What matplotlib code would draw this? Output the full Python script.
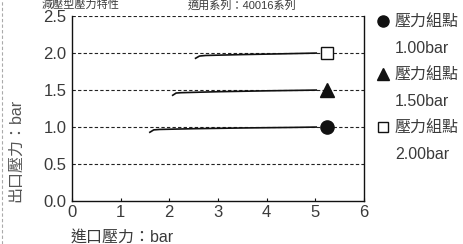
import matplotlib
matplotlib.use("Agg")
import matplotlib.pyplot as plt
from matplotlib.lines import Line2D

plt.rcParams['font.family'] = ['Liberation Sans', 'Noto Sans CJK TC']

# data
inlet_1 = [1.60, 1.68, 1.80, 2.50, 3.50, 4.50, 5.02]
outlet_1 = [0.93, 0.962, 0.968, 0.978, 0.988, 0.995, 1.00]
inlet_15 = [2.07, 2.14, 2.25, 3.00, 4.00, 5.02]
outlet_15 = [1.43, 1.46, 1.465, 1.478, 1.49, 1.50]
inlet_2 = [2.54, 2.62, 2.75, 3.50, 4.30, 5.02]
outlet_2 = [1.93, 1.96, 1.968, 1.98, 1.99, 2.00]
set_x = [5.25, 5.25, 5.25]
set_y = [1.00, 1.50, 2.00]
set_labels = ['1.00bar', '1.50bar', '2.00bar']
x_ticks = [0, 1, 2, 3, 4, 5, 6]
y_ticks = [0.0, 0.5, 1.0, 1.5, 2.0, 2.5]

TXT = '#3a3a3a'
LIGHT = 300
fig = plt.figure(figsize=(4.63, 2.44), dpi=100)
ax = fig.add_axes([0.1555, 0.176, 0.6305, 0.758])

for yv in y_ticks[1:]:
    ax.axhline(yv, color='#222222', lw=0.8, ls=(0, (3, 2)), zorder=1)

ax.plot(inlet_1, outlet_1, color='#111111', lw=1.2, zorder=3)
ax.plot(inlet_15, outlet_15, color='#111111', lw=1.2, zorder=3)
ax.plot(inlet_2, outlet_2, color='#111111', lw=1.2, zorder=3)

ax.plot([set_x[0]], [set_y[0]], 'o', color='#111111', ms=9.5, zorder=4)
ax.plot([set_x[1]], [set_y[1]], '^', color='#111111', ms=10, zorder=4)
ax.plot([set_x[2]], [set_y[2]], 's', mfc='white', mec='#111111', mew=1.0, ms=8, zorder=4)

ax.set_xlim(0, 6)
ax.set_ylim(0, 2.5)
ax.set_xticks(x_ticks)
ax.set_yticks(y_ticks)
ax.set_yticklabels([f'{v:.1f}' for v in y_ticks])
ax.tick_params(axis='x', direction='in', length=2, width=0.8, colors='#111111',
               labelcolor=TXT, labelsize=12, pad=3)
ax.tick_params(axis='y', length=0, labelcolor=TXT, labelsize=12, pad=4)
ax.spines['top'].set_visible(False)
for s in ['left', 'right', 'bottom']:
    ax.spines[s].set_color('#111111')
    ax.spines[s].set_linewidth(1.0)

fig.text(0.153, 0.03, '進口壓力：bar', color=TXT, fontsize=11.5, ha='left', va='center',
         fontweight=LIGHT)
fig.text(0.034, 0.385, '出口壓力：bar', color='#555555', fontsize=11.5, ha='center',
         va='center', rotation=90, fontweight=LIGHT)
fig.text(0.09, 1.0, '減壓型壓力特性', color=TXT, fontsize=8, ha='left', va='top',
         fontweight=LIGHT)
fig.text(0.405, 1.0, '適用系列：40016系列', color=TXT, fontsize=8, ha='left', va='top',
         fontweight=LIGHT)

fig.add_artist(Line2D([0.005, 0.005], [0, 1], transform=fig.transFigure,
                      color='#aaaaaa', lw=0.8, ls=(0, (3, 2))))

blank = Line2D([], [], ls='none')
handles = [Line2D([], [], marker='o', ls='none', color='#111111', ms=8), blank,
           Line2D([], [], marker='^', ls='none', color='#111111', ms=8.5), blank,
           Line2D([], [], marker='s', ls='none', mfc='white', mec='#111111', ms=7), blank]
labels = ['壓力組點', set_labels[0], '壓力組點', set_labels[1], '壓力組點', set_labels[2]]
leg = fig.legend(handles, labels, loc='upper left', bbox_to_anchor=(0.813, 0.94),
                 frameon=False, fontsize=11.5, labelspacing=0.72, handlelength=0.8,
                 handletextpad=0.35, borderaxespad=0, borderpad=0)
for t in leg.get_texts():
    t.set_color(TXT)
    t.set_fontweight(LIGHT)

fig.savefig('out.png', dpi=100)
